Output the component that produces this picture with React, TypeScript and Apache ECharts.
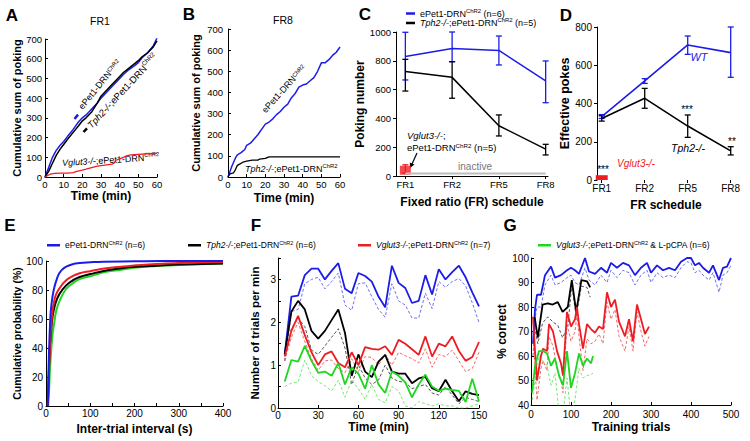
import React, { useEffect, useRef } from "react";
import * as echarts from "echarts";

const FONT = "'Liberation Sans', Arial, Helvetica, sans-serif";
const BLUE = "#1c1ce8";
const BLUE_D = "#6f6ff2";
const RED = "#ee1d23";
const RED_D = "#f26b6b";
const GREEN = "#1fd61f";
const GREEN_D = "#7ae57a";
const BLACK = "#000000";
const BLACK_D = "#555555";
const GRAY = "#bdbdbd";

const N_BLUE = "ePet1-DRNChR2 (n=6)";
const N_BLACK = "Tph2-/-;ePet1-DRNChR2 (n=6)";
const N_BLACK5 = "Tph2-/-;ePet1-DRNChR2 (n=5)";
const N_RED = "Vglut3-/-;ePet1-DRNChR2 (n=7)";
const N_GREEN = "Vglut3-/-;ePet1-DRNChR2 & L-pCPA (n=6)";

const RICH_LABEL: Record<string, string> = {
  [N_BLUE]: "ePet1-DRN{s|ChR2} (n=6)",
  [N_BLACK]: "{i|Tph2-/-};ePet1-DRN{s|ChR2} (n=6)",
  [N_BLACK5]: "{i|Tph2-/-};ePet1-DRN{s|ChR2} (n=5)",
  [N_RED]: "{i|Vglut3-/-};ePet1-DRN{s|ChR2} (n=7)",
  [N_GREEN]: "{i|Vglut3-/-};ePet1-DRN{s|ChR2} & L-pCPA (n=6)",
};

// ---------- Panel A (FR1 cumulative pokes) ----------
const aBlue = [[0,0],[2,50],[4,100],[6,135],[8,160],[10,180],[12,205],[15,240],[18,280],[20,300],[22,315],[25,345],[28,375],[30,400],[33,430],[36,460],[39,490],[42,520],[45,545],[48,565],[50,580],[52,605],[55,630],[58,665],[60,705]];
const aBlack = [[0,0],[2,30],[4,70],[6,110],[8,140],[10,165],[12,190],[15,225],[18,260],[20,285],[22,300],[25,330],[28,375],[30,410],[33,440],[36,470],[39,500],[42,530],[44,545],[46,560],[48,575],[50,590],[52,610],[55,630],[58,660],[60,690]];
const aRed = [[0,0],[2,10],[3,15],[5,18],[8,20],[12,20],[15,22],[17,28],[20,35],[22,40],[25,48],[28,55],[30,58],[33,62],[36,65],[37,70],[38,85],[40,92],[42,100],[44,108],[46,112],[50,115],[55,118],[60,120]];

// ---------- Panel B (FR8 cumulative pokes) ----------
const bBlue = [[0,0],[2,50],[4,90],[5,105],[7,115],[9,130],[10,150],[12,160],[14,180],[16,200],[18,225],[20,250],[22,260],[24,275],[26,295],[28,310],[30,330],[32,345],[34,375],[36,395],[38,425],[40,435],[42,440],[44,455],[46,470],[48,500],[50,540],[52,540],[54,555],[56,575],[58,590],[60,615]];
const bBlack = [[0,0],[1,15],[3,20],[4,35],[5,55],[6,60],[8,70],[10,75],[13,80],[16,80],[17,85],[20,88],[22,95],[60,95]];

// ---------- Panel C (poking number) ----------
const frCats = ["FR1", "FR2", "FR5", "FR8"];
const frPos = [1, 2, 3, 4];
const cBlue = [830, 885, 872, 660];
const cBlueLo = [667, 794, 771, 509];
const cBlueHi = [998, 1000, 972, 799];
const cBlack = [725, 685, 349, 187];
const cBlackLo = [590, 540, 278, 146];
const cBlackHi = [810, 794, 424, 220];
const cRed = [40];
const cRedLo = [20];
const cRedHi = [78];
const cInactive = [18, 18, 18, 18];

// ---------- Panel D (effective pokes) ----------
const dBlue = [331, 518, 706, 666];
const dBlueLo = [322, 505, 657, 537];
const dBlueHi = [342, 530, 753, 800];
const dBlack = [322, 427, 282, 152];
const dBlackLo = [308, 375, 223, 131];
const dBlackHi = [336, 479, 340, 174];
const dRed = [25];

// ---------- Panel E (inter-trial interval CDF) ----------
const eBlue = [[4,0],[5,12],[6,28],[7.5,43],[9,55],[11,66],[15,76],[19,82],[25,88],[30,91.5],[38,94.5],[45,96],[60,97.8],[76,98.6],[100,99.1],[130,99.5],[200,99.8],[260,100],[400,100]];
const eBlack = [[4,0],[5,8],[6,18],[7.5,32],[9,42],[11,50],[15,62],[19,68],[22.7,72],[30,77],[45,83],[60,86.5],[76,89],[100,91],[136,93.5],[170,95],[204,96],[250,96.8],[300,97.5],[400,98.3]];
const eRed = [[4,0],[5,8],[6,18],[7.5,30],[9,42],[11,52],[15,66],[19,73],[22.7,77],[30,81],[45,86.5],[60,89.5],[76,91.5],[100,93],[136,95],[170,96],[204,97],[250,98],[300,98.6],[400,99.3]];
const eGreen = [[5,0],[6,6],[7.5,15],[9,25],[11,35],[15,50],[19,58],[22.7,65],[30,72],[45,80.5],[60,84.5],[76,87.5],[100,89.5],[136,92.5],[170,94],[204,95.5],[250,96.5],[300,97.3],[400,98.3]];

// ---------- Panel F (trials per min) ----------
const fTime = [5,10,15,20,25,30,35,40,45,50,55,60,65,70,75,80,85,90,95,100,105,110,115,120,125,130,135,140,145,150];
const fBlue = [1.25,2.6,2.62,3.1,3.25,3.25,3.0,3.2,3.38,2.78,2.68,3.15,3.08,2.95,2.6,2.35,3.32,2.92,2.8,2.45,2.5,3.1,2.65,3.24,3.0,3.17,3.32,3.05,2.7,2.37];
const fBlueD = [1.1,2.25,2.3,2.9,3.0,3.05,2.78,2.95,3.15,2.4,2.28,2.9,2.92,2.6,2.3,2.12,2.9,2.5,2.4,2.1,2.1,2.68,2.32,2.95,2.82,2.95,3.02,2.85,2.45,2.0];
const fBlack = [1.25,2.25,2.5,2.3,1.8,1.62,1.8,2.05,2.3,1.75,0.75,1.25,0.85,0.72,1.08,1.24,0.85,0.8,0.8,0.58,0.69,0.73,0.46,0.39,0.66,0.39,0.16,0.39,0.33,0.3];
const fBlackD = [1.1,1.85,2.1,1.9,1.35,1.25,1.45,1.65,1.85,1.4,0.55,1.0,0.7,0.55,0.65,1.0,0.7,0.62,0.6,0.45,0.5,0.55,0.35,0.3,0.5,0.3,0.1,0.25,0.2,0.15];
const fRed = [1.2,1.8,2.15,1.7,1.3,1.0,1.25,1.32,1.05,0.95,1.3,1.0,1.42,1.38,1.36,1.44,1.24,1.59,1.5,1.37,1.24,1.67,1.2,1.5,1.44,1.67,1.33,1.1,1.19,1.54];
const fRedD = [1.1,1.65,2.0,1.55,1.15,0.88,1.1,1.12,0.92,0.82,1.15,0.85,1.2,1.18,1.0,1.25,1.0,1.3,1.22,1.15,1.05,1.38,0.95,1.25,1.2,1.35,1.1,0.85,0.92,1.3];
const fGreen = [0.62,1.12,1.08,1.45,1.1,0.82,0.85,0.75,1.05,0.55,0.95,0.8,0.45,1.0,0.55,0.35,0.85,0.75,0.6,0.25,0.55,0.78,0.5,0.4,0.45,0.42,0.4,0.14,0.68,0.15];
const fGreenD = [0.5,0.58,0.6,1.12,0.75,0.62,0.52,0.4,0.65,0.25,0.65,0.45,0.2,0.55,0.2,0.12,0.5,0.4,0.05,0.0,0.15,0.1,0.05,0.1,0.05,0.05,0.0,0.0,0.05,0.1];

// ---------- Panel G (% correct) ----------
const gBlueTrials = [5,10,15,25,35,50,60,75,90,100,110,120,135,145,160,175,190,200,215,230,245,260,275,290,300,315,330,345,360,375,390,400,410,420,430,445,455,470,480,490,500];
const gBlue = [65,79,85,85,93,96.5,92,93,95,96,95,93.5,100,94.5,93.5,96,94,98,96,98,97,93,96,98,94,97,95,96,95,98.5,100,100,97,98,96,94,97,91,96,96.5,100];
const gBlueD = [60,75,80,80,89,93,89,90,92,93,90,89,96,91,89,93,90,95,92,95,94,89,93,95,90,94,92,93,92,96,98.5,98,94,95,93,91,94,86,93,94,97];
const gBlackTrials = [9,17,29,42,54,67,79,92,102,113,126,140,148];
const gBlack = [76,67.5,81,81.5,81,82,78,80,91,78,91,90.5,88];
const gBlackD = [72,65,73.5,76,74,72.5,67.5,72,89,76,88.5,88,84];
const gRedTrials = [5,10,15,25,30,40,45,55,65,75,80,90,100,110,115,120,130,140,150,160,170,180,190,200,210,220,235,245,255,265,275,285,295];
const gRed = [76,62,50,60,63,62,73,70,62,57,52,78,72,75,80,73,63,73,71,69.5,72,71,86,80,83,74,68,75,66,81,75,69,72];
const gRedD = [70,55,42,55,58,54,68,64,55,50,45,73,66,70,77,68,54,67,65,66,69,65,82,75,79,68,62,72,62,78,70,64,68];
const gGreenTrials = [3,10,20,30,40,50,60,70,80,90,100,110,120,130,140,150,155];
const gGreen = [45,56,62,62,61,56,59,52,48,62,47,53,61,56,59,57,60];
const gGreenD = [42,50,60,58,56,48,53,37,36,51,35,42,55,51,52,52.5,53];

const zip = (xs: number[], ys: number[]) => xs.map((x, i) => [x, ys[i]]);

const richStyles = (fs: number) => ({
  i: { fontStyle: "italic", fontSize: fs, fontFamily: FONT, color: "#000", lineHeight: fs + 3 },
  s: { fontSize: Math.round(fs * 0.65 * 10) / 10, fontFamily: FONT, color: "#000", verticalAlign: "top", lineHeight: fs * 0.65 },
});

function lineS(name: string, grid: number, data: number[][], color: string, width = 1.5, dashed = false, smooth = false) {
  return {
    type: "line", name, xAxisIndex: grid, yAxisIndex: grid, data, showSymbol: false, symbol: "none",
    smooth, silent: true, clip: true,
    lineStyle: { color, width, type: dashed ? [3, 2] : "solid" },
    itemStyle: { color },
    emphasis: { disabled: true },
  };
}

function errS(grid: number, xs: number[], lo: number[], hi: number[], color: string, cap = 3) {
  return {
    type: "custom", xAxisIndex: grid, yAxisIndex: grid, silent: true, clip: false,
    data: xs.map((x, i) => [x, lo[i], hi[i]]),
    encode: { x: 0, y: [1, 2] },
    renderItem: (_p: any, api: any) => {
      const x = api.value(0);
      const a = api.coord([x, api.value(1)]);
      const b = api.coord([x, api.value(2)]);
      const st = { stroke: color, lineWidth: 1.3 };
      return {
        type: "group",
        children: [
          { type: "line", shape: { x1: a[0], y1: a[1], x2: b[0], y2: b[1] }, style: st },
          { type: "line", shape: { x1: a[0] - cap, y1: a[1], x2: a[0] + cap, y2: a[1] }, style: st },
          { type: "line", shape: { x1: b[0] - cap, y1: b[1], x2: b[0] + cap, y2: b[1] }, style: st },
        ],
      };
    },
  };
}

const plainFmt = (v: number) => String(v);

function axis(grid: number, p: any) {
  const custom = p.custom ? { customValues: p.custom } : {};
  return {
    type: "value", gridIndex: grid, min: p.min, max: p.max,
    ...(p.interval !== undefined ? { interval: p.interval } : {}),
    name: p.name ?? "", nameLocation: "middle", nameGap: p.nameGap ?? 20,
    nameTextStyle: { fontFamily: FONT, fontWeight: "bold", fontSize: p.nameSize ?? 12, color: "#000" },
    axisLine: { show: p.line ?? true, onZero: false, lineStyle: { color: "#000", width: 1 } },
    axisTick: { show: true, inside: p.inside ?? true, length: 3, lineStyle: { color: "#000" }, ...custom },
    axisLabel: { fontFamily: FONT, fontSize: p.labelSize ?? 10, color: "#000", margin: p.margin ?? 3, formatter: p.fmt ?? plainFmt, ...custom },
    splitLine: { show: false },
  };
}

function txt(x: number, y: number, text: string, o: any = {}) {
  const fs = o.fontSize ?? 10;
  const align = o.align ?? "center";
  return {
    type: "text", x, y, rotation: o.rotation ?? 0, silent: true,
    style: {
      text, fontSize: fs, fontFamily: FONT, fontWeight: o.fontWeight ?? "normal", fontStyle: o.fontStyle ?? "normal",
      fill: o.fill ?? "#000", align, textAlign: align, verticalAlign: "middle", textVerticalAlign: "middle",
      rich: o.rich,
    },
  };
}

function legendFor(name: string, left: number, top: number, fs: number, w = 13) {
  return {
    data: [name], left, top, orient: "horizontal", padding: 0, itemGap: 0, itemWidth: w, itemHeight: 2.5,
    icon: "rect", selectedMode: false,
    formatter: (n: string) => RICH_LABEL[n] ?? n,
    textStyle: { fontFamily: FONT, fontSize: fs, color: "#000", lineHeight: fs + 3, rich: richStyles(fs) },
  };
}

function buildOption() {
  const grids = [
    { left: 45, top: 39, width: 112, height: 138 },
    { left: 228, top: 29, width: 112, height: 148 },
    { left: 396, top: 32, width: 152, height: 144 },
    { left: 597, top: 27, width: 138, height: 153 },
    { left: 46, top: 261, width: 177, height: 145 },
    { left: 278, top: 258, width: 201, height: 150 },
    { left: 531, top: 258, width: 200, height: 147 },
  ].map((g) => ({ ...g, containLabel: false, outerBoundsMode: "none" }));

  const frFmt = (v: number) => frCats[Math.round(v) - 1] ?? "";

  const xAxis = [
    axis(0, { min: 0, max: 60, interval: 10, name: "Time (min)", nameGap: 12, labelSize: 9.5, margin: 2 }),
    axis(1, { min: 0, max: 60, interval: 10, name: "Time (min)", nameGap: 15, labelSize: 9.5, margin: 2 }),
    axis(2, { min: 0.8, max: 4.05, custom: frPos, fmt: frFmt, name: "Fixed ratio (FR) schedule", nameGap: 20, labelSize: 9.5, margin: 3, inside: false }),
    axis(3, { min: 0.89, max: 4.1, custom: frPos, fmt: frFmt, name: "FR schedule", nameGap: 19, labelSize: 10, margin: 3, line: false, inside: false }),
    axis(4, { min: 0, max: 400, interval: 50, fmt: (v: number) => (v % 100 === 0 ? String(v) : ""), name: "Inter-trial interval (s)", nameGap: 17, margin: 2 }),
    axis(5, { min: 0, max: 150, interval: 30, name: "Time (min)", nameGap: 13, margin: 2 }),
    axis(6, { min: 0, max: 500, interval: 100, name: "Training trials", nameGap: 16, margin: 4 }),
  ];
  const yAxis = [
    axis(0, { min: 0, max: 700, interval: 100, name: "Cumulative sum of poking", nameGap: 21, nameSize: 11, labelSize: 9.5, margin: 3 }),
    axis(1, { min: 0, max: 700, interval: 100, name: "Cumulative sum of poking", nameGap: 27, nameSize: 11, labelSize: 9.5, margin: 5 }),
    axis(2, { min: 0, max: 1000, interval: 200, name: "Poking number", nameGap: 23, labelSize: 9.5, margin: 5, inside: false }),
    axis(3, { min: 0, max: 800, interval: 200, name: "Effective pokes", nameGap: 25, nameSize: 12.5, labelSize: 10, margin: 5, inside: false }),
    axis(4, { min: 0, max: 100, interval: 20, name: "Cumulative probability (%)", nameGap: 22, nameSize: 10.5, margin: 3 }),
    axis(5, { min: 0, max: 3.5, interval: 0.5, fmt: (v: number) => (Number.isInteger(v) ? String(v) : ""), name: "Number of trials per min", nameGap: 17, nameSize: 11.5, margin: 2 }),
    axis(6, { min: 40, max: 100, interval: 10, name: "% correct", nameGap: 21, margin: 2 }),
  ];

  const series: any[] = [
    // A
    lineS("A blue", 0, aBlue, BLUE, 1.5),
    lineS("A black", 0, aBlack, BLACK, 1.5),
    lineS("A red", 0, aRed, RED, 1.3),
    // B
    lineS("B blue", 1, bBlue, BLUE, 1.5),
    lineS("B black", 1, bBlack, BLACK, 1.3),
    // C
    lineS("C inactive", 2, zip(frPos, cInactive), GRAY, 2),
    errS(2, frPos, cBlueLo, cBlueHi, BLUE, 3),
    lineS(N_BLUE, 2, zip(frPos, cBlue), BLUE, 1.5),
    errS(2, frPos, cBlackLo, cBlackHi, BLACK, 3),
    lineS(N_BLACK5, 2, zip(frPos, cBlack), BLACK, 1.5),
    errS(2, [1], cRedLo, cRedHi, RED, 3),
    {
      type: "scatter", name: "C red", xAxisIndex: 2, yAxisIndex: 2, silent: true,
      data: zip([1], cRed), symbol: "rect", symbolSize: [11, 9], itemStyle: { color: RED },
    },
    // D
    errS(3, frPos, dBlueLo, dBlueHi, BLUE, 3),
    lineS("D WT", 3, zip(frPos, dBlue), BLUE, 1.6),
    errS(3, frPos, dBlackLo, dBlackHi, BLACK, 3),
    lineS("D Tph2", 3, zip(frPos, dBlack), BLACK, 1.6),
    {
      type: "bar", name: "D Vglut3", xAxisIndex: 3, yAxisIndex: 3, silent: true,
      data: zip([1], dRed), barWidth: 12, itemStyle: { color: RED },
    },
    // E
    lineS(N_GREEN, 4, eGreen, GREEN, 2, false, true),
    lineS(N_BLACK, 4, eBlack, BLACK, 2, false, true),
    lineS(N_RED, 4, eRed, RED, 2, false, true),
    lineS(N_BLUE, 4, eBlue, BLUE, 2, false, true),
    // F
    lineS("F blue d", 5, zip(fTime, fBlueD), BLUE_D, 1, true),
    lineS("F black d", 5, zip(fTime, fBlackD), BLACK_D, 1, true),
    lineS("F red d", 5, zip(fTime, fRedD), RED_D, 1, true),
    lineS("F green d", 5, zip(fTime, fGreenD), GREEN_D, 1, true),
    lineS("F blue", 5, zip(fTime, fBlue), BLUE, 1.8),
    lineS("F black", 5, zip(fTime, fBlack), BLACK, 1.8),
    lineS("F red", 5, zip(fTime, fRed), RED, 1.8),
    lineS("F green", 5, zip(fTime, fGreen), GREEN, 1.8),
    // G
    lineS("G blue d", 6, zip(gBlueTrials, gBlueD), BLUE_D, 1, true),
    lineS("G black d", 6, zip(gBlackTrials, gBlackD), BLACK_D, 1, true),
    lineS("G red d", 6, zip(gRedTrials, gRedD), RED_D, 1, true),
    lineS("G green d", 6, zip(gGreenTrials, gGreenD), GREEN_D, 1, true),
    lineS("G blue", 6, zip(gBlueTrials, gBlue), BLUE, 1.8),
    lineS("G black", 6, zip(gBlackTrials, gBlack), BLACK, 1.8),
    lineS("G red", 6, zip(gRedTrials, gRed), RED, 1.8),
    lineS("G green", 6, zip(gGreenTrials, gGreen), GREEN, 1.8),
  ];

  const d2r = Math.PI / 180;
  const rich9 = richStyles(9);
  const rich95 = richStyles(9.5);
  const graphic: any[] = [
    // panel letters
    txt(12, 15, "A", { fontSize: 17, fontWeight: "bold" }),
    txt(189, 14, "B", { fontSize: 17, fontWeight: "bold" }),
    txt(365, 14, "C", { fontSize: 17, fontWeight: "bold" }),
    txt(566, 15, "D", { fontSize: 17, fontWeight: "bold" }),
    txt(10, 225, "E", { fontSize: 17, fontWeight: "bold" }),
    txt(256, 225, "F", { fontSize: 17, fontWeight: "bold" }),
    txt(510, 225, "G", { fontSize: 17, fontWeight: "bold" }),
    // titles
    txt(100, 21, "FR1", { fontSize: 10.5 }),
    txt(283, 20, "FR8", { fontSize: 10.5 }),
    // A annotations
    { type: "line", silent: true, shape: { x1: 74.5, y1: 119, x2: 78, y2: 114.6 }, style: { stroke: BLUE, lineWidth: 2.5 } },
    txt(80.5, 108, "ePet1-DRN{s|ChR2}", { fontSize: 9, align: "left", rotation: 51 * d2r, rich: rich9 }),
    { type: "line", silent: true, shape: { x1: 83.5, y1: 132, x2: 87, y2: 128.3 }, style: { stroke: BLACK, lineWidth: 2.5 } },
    txt(89, 126.5, "{i|Tph2-/-};ePet1-DRN{s|ChR2}", { fontSize: 9.5, align: "left", rotation: 47 * d2r, rich: rich95 }),
    txt(62, 163, "{i|Vglut3-/-};ePet1-DRN{s|ChR2}", { fontSize: 9, align: "left", rotation: 3.5 * d2r, rich: rich9 }),
    // B annotations
    txt(263.5, 111.5, "ePet1-DRN{s|ChR2}", { fontSize: 9, align: "left", rotation: 48 * d2r, rich: rich9 }),
    txt(245, 168.5, "{i|Tph2-/-};ePet1-DRN{s|ChR2}", { fontSize: 9, align: "left", rich: rich9 }),
    // C annotations
    txt(407, 135, "{i|Vglut3-/-};", { fontSize: 9.5, align: "left", rich: rich95 }),
    txt(407, 147, "ePet1-DRN{s|ChR2} (n=5)", { fontSize: 9.5, align: "left", rich: rich95 }),
    { type: "line", silent: true, shape: { x1: 417, y1: 153, x2: 412, y2: 164 }, style: { stroke: BLACK, lineWidth: 1.2 } },
    { type: "polygon", silent: true, shape: { points: [[410, 168], [414.4, 164.6], [409.8, 162.5]] }, style: { fill: BLACK } },
    txt(475, 166.5, "inactive", { fontSize: 10, fill: "#777" }),
    // D annotations
    txt(699, 57, "WT", { fontSize: 11, fontStyle: "italic", fill: BLUE }),
    txt(688, 148, "Tph2-/-", { fontSize: 10.5, fontStyle: "italic" }),
    txt(636, 163, "Vglut3-/-", { fontSize: 10, fontStyle: "italic", fill: RED }),
    txt(603, 169, "***", { fontSize: 10 }),
    txt(687, 109, "***", { fontSize: 10 }),
    txt(732, 141, "**", { fontSize: 10 }),
  ];

  const legend = [
    legendFor(N_BLUE, 406, 7.5, 9, 9),
    legendFor(N_BLACK5, 406, 17, 9, 9),
    legendFor(N_BLUE, 47, 239.5, 8.5),
    legendFor(N_BLACK, 188, 239.5, 8.5),
    legendFor(N_RED, 358, 239.5, 8.5),
    legendFor(N_GREEN, 538, 239.5, 8.5),
  ];

  return {
    animation: false,
    backgroundColor: "#ffffff",
    textStyle: { fontFamily: FONT },
    grid: grids,
    xAxis,
    yAxis,
    legend,
    series,
    graphic,
  };
}

export default function App() {
  const ref = useRef<HTMLDivElement>(null);
  useEffect(() => {
    if (!ref.current) return;
    const chart = echarts.init(ref.current, undefined, { renderer: "svg" });
    chart.setOption(buildOption() as any);
    return () => chart.dispose();
  }, []);
  return (
    <div
      ref={ref}
      style={{ position: "absolute", left: 0, top: 0, width: 750, height: 441, background: "#fff" }}
    />
  );
}
